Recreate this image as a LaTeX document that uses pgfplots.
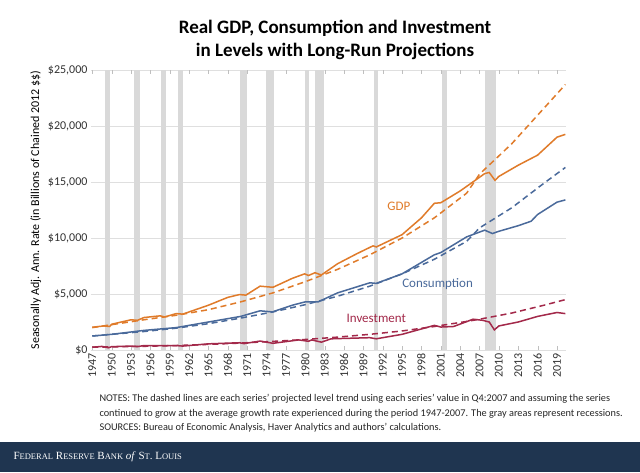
\documentclass[border=0pt]{standalone}
\usepackage{pgfplots}
\pgfplotsset{compat=1.18}
\usepackage{fontspec}
\setmainfont{Carlito}
\newfontfamily\serifft{Liberation Serif}
\definecolor{gdp}{HTML}{E07B2A}
\definecolor{cons}{HTML}{4A6A9B}
\definecolor{inv}{HTML}{A3294A}
\definecolor{navy}{HTML}{1F3550}
\begin{document}
\begin{tikzpicture}[x=1pt,y=1pt]
\fill[white] (0,0) rectangle (640,-472);
\node[font=\bfseries\fontsize{19}{23}\selectfont,align=center] at (335,-40) {Real GDP, Consumption and Investment\\in Levels with Long-Run Projections};
\begin{axis}[at={(91pt,-350pt)},anchor=south west,scale only axis,width=475pt,height=280pt,
 xmin=1946.8,xmax=2020.4,ymin=0,ymax=25000,scaled y ticks=false,
 xtick={1947,1950,...,2019},xticklabel style={rotate=90,anchor=east,/pgf/number format/1000 sep={}},
 ytick={0,5000,10000,15000,20000,25000},
 yticklabels={\$0,\$5{,}000,\$10{,}000,\$15{,}000,\$20{,}000,\$25{,}000},
 ymajorgrids,grid style={gray!25},axis line style={draw=none},
 x axis line style={draw=gray!40},
 tick style={gray!50},major tick length=4pt,ytick style={draw=none},
 tick label style={font=\fontsize{12}{14}\selectfont,text=black!80},
 /pgf/number format/assume math mode=true,
 ylabel={Seasonally Adj. Ann. Rate (in Billions of Chained 2012 \$\$)},
 ylabel style={font=\fontsize{12}{14}\selectfont},
 every axis plot/.append style={line width=1.5pt},
 dash/.style={dash pattern=on 6pt off 4pt},
 clip=false]
\foreach \a/\b in {1948.9/1949.8,1953.5/1954.4,1957.6/1958.4,1960.3/1961.1,1969.9/1970.9,1973.9/1975.2,1980.0/1980.6,1981.5/1982.9,1990.6/1991.2,2001.2/2001.9,2007.9/2009.5}{
 \edef\tmp{\noexpand\fill[gray!30] (axis cs:\a,0) rectangle (axis cs:\b,25000);}\tmp}
\addplot[gdp,dash] coordinates {(1947,2000)(1955,2700)(1960,3100)(1965,3600)(1970,4300)(1975,5100)(1980,6100)(1985,7200)(1990,8500)(1995,10000)(2000,11800)(2005,14000)(2007,15700)(2012,18420)(2017,21600)(2020.3,23700)};
\addplot[cons,dash] coordinates {(1947,1250)(1955,1650)(1960,1950)(1965,2350)(1970,2850)(1975,3400)(1980,4050)(1985,4800)(1990,5700)(1995,6800)(2000,8100)(2005,9700)(2007,10900)(2012,12700)(2017,14900)(2020.3,16300)};
\addplot[inv,dash] coordinates {(1947,250)(1955,330)(1960,400)(1965,500)(1970,620)(1975,770)(1980,940)(1985,1150)(1990,1400)(1995,1700)(2000,2100)(2005,2550)(2007,2750)(2012,3300)(2017,4000)(2020.3,4500)};
\addplot[gdp] coordinates {(1947,2030)(1948.8,2150)(1949.7,2100)(1950,2300)(1953,2700)(1954,2650)(1955,2900)(1957.5,3050)(1958.2,2950)(1960,3250)(1961,3200)(1965,4000)(1968,4700)(1969.8,4950)(1970.8,4900)(1973,5700)(1975,5600)(1978,6400)(1979.9,6800)(1980.5,6650)(1981.5,6900)(1982.5,6700)(1985,7700)(1988,8600)(1990.5,9300)(1991,9200)(1995,10300)(1998,11800)(2000,13100)(2001,13150)(2004,14200)(2007.8,15750)(2008.5,15850)(2009.4,15150)(2010,15500)(2013,16500)(2016,17400)(2019,19000)(2020.3,19250)};
\addplot[cons] coordinates {(1947,1250)(1950,1400)(1955,1750)(1960,2000)(1965,2500)(1970,3000)(1973,3500)(1974.9,3400)(1978,4000)(1980,4300)(1982,4300)(1985,5100)(1990,6000)(1991,5950)(1995,6800)(2000,8500)(2001,8700)(2005,10100)(2007.8,10700)(2009,10400)(2010,10600)(2013,11100)(2015,11500)(2016,12100)(2019,13200)(2020.3,13400)};
\addplot[inv] coordinates {(1947,250)(1948.5,320)(1949.5,200)(1950,300)(1953,350)(1954,300)(1955,400)(1960,400)(1961,350)(1965,550)(1969.8,650)(1970.5,570)(1973,800)(1975,600)(1979,900)(1980.5,780)(1981,900)(1982.5,700)(1984,1000)(1990,1100)(1991,1000)(1995,1400)(2000,2200)(2001,2050)(2003,2100)(2006,2750)(2007.5,2650)(2008.5,2500)(2009.3,1800)(2010,2150)(2013,2500)(2016,3000)(2019,3350)(2020.3,3250)};
\node[gdp,font=\fontsize{13}{15}\selectfont] at (axis cs:1994.5,12800) {GDP};
\node[cons,font=\fontsize{13}{15}\selectfont] at (axis cs:2000.5,5900) {Consumption};
\node[inv,font=\fontsize{13}{15}\selectfont] at (axis cs:1991,2800) {Investment};
\end{axis}
\node[anchor=north west,align=left,font=\fontsize{10.3}{14.5}\selectfont,text=black!85] at (96,-391) {NOTES: The dashed lines are each series' projected level trend using each series' value in Q4:2007 and assuming the series\\continued to grow at the average growth rate experienced during the period 1947-2007. The gray areas represent recessions.\\SOURCES: Bureau of Economic Analysis, Haver Analytics and authors' calculations.};
\fill[navy] (0,-442) rectangle (640,-472);
\node[anchor=west,text=white,font=\serifft\fontsize{11}{13}\selectfont] at (10,-457) {F{\fontsize{8.5}{10}\selectfont EDERAL} R{\fontsize{8.5}{10}\selectfont ESERVE} B{\fontsize{8.5}{10}\selectfont ANK} \textit{of} S{\fontsize{8.5}{10}\selectfont T}. L{\fontsize{8.5}{10}\selectfont OUIS}};
\end{tikzpicture}
\end{document}
